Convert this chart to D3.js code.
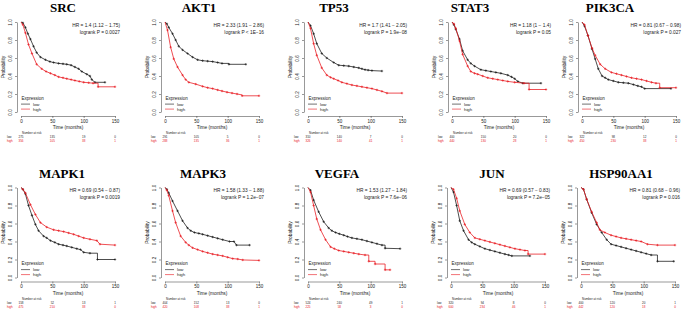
<!DOCTYPE html>
<html>
<head>
<meta charset="utf-8">
<script src="https://cdn.jsdelivr.net/npm/d3@7"></script>
<style>
  body { margin: 0; background: #fff; }
  svg { display: block; }
</style>
</head>
<body>
<div id="chart"></div>
<script>
// Gene panels, left to right, top to bottom
const genes = ['SRC', 'AKT1', 'TP53', 'STAT3', 'PIK3CA', 'MAPK1', 'MAPK3', 'VEGFA', 'JUN', 'HSP90AA1']

const hrLabels = [
  'HR = 1.4 (1.12 − 1.75)', 'HR = 2.33 (1.91 − 2.86)', 'HR = 1.7 (1.41 − 2.05)', 'HR = 1.18 (1 − 1.4)',
  'HR = 0.81 (0.67 − 0.98)', 'HR = 0.69 (0.54 − 0.87)', 'HR = 1.58 (1.33 − 1.88)', 'HR = 1.53 (1.27 − 1.84)',
  'HR = 0.69 (0.57 − 0.83)', 'HR = 0.81 (0.68 − 0.96)'
]
const pLabels = [
  'logrank P = 0.0027', 'logrank P < 1E−16', 'logrank P = 1.9e−08', 'logrank P = 0.05',
  'logrank P = 0.027', 'logrank P = 0.0019', 'logrank P = 1.2e−07', 'logrank P = 7.6e−06',
  'logrank P = 7.2e−05', 'logrank P = 0.016'
]

const riskTimes = [0, 50, 100, 150]
const riskLow = [
  [275, 135, 19, 0], [291, 105, 5, 0], [310, 140, 7, 0], [400, 150, 20, 0], [322, 98, 12, 0],
  [158, 52, 13, 1], [404, 152, 13, 0], [524, 240, 49, 1], [320, 94, 8, 0], [400, 120, 20, 1]
]
const riskHigh = [
  [356, 105, 38, 1], [288, 135, 36, 1], [326, 140, 41, 1], [440, 130, 28, 1], [450, 230, 38, 1],
  [475, 210, 38, 0], [420, 108, 38, 1], [225, 58, 3, 0], [600, 234, 46, 1], [442, 120, 18, 0]
]

// Survival curves [months, probability], "low" expression group
const lowCurves = [
  [[0,1],[3,0.99],[7,0.94],[11,0.87],[15,0.81],[20,0.73],[25,0.66],[31,0.61],[39,0.58],[46,0.56],[52,0.55],[60,0.54],[67,0.535],[73,0.53],[80,0.52],[86,0.5],[92,0.48],[97,0.45],[105,0.42],[110,0.4],[113,0.36],[118,0.33],[134,0.33]],
  [[0,1],[3,0.98],[6,0.94],[12,0.87],[17,0.8],[22,0.73],[28,0.69],[36,0.65],[44,0.61],[52,0.58],[60,0.57],[68,0.565],[76,0.56],[84,0.55],[91,0.54],[102,0.54],[102,0.53],[129,0.53]],
  [[0,1],[4,0.96],[9,0.87],[14,0.76],[22,0.65],[30,0.6],[41,0.55],[49,0.52],[57,0.515],[65,0.51],[73,0.5],[81,0.49],[86,0.48],[91,0.47],[96,0.465],[102,0.46],[118,0.455]],
  [[0,1],[3,0.97],[6,0.92],[12,0.81],[17,0.68],[25,0.58],[30,0.54],[36,0.51],[46,0.47],[54,0.46],[62,0.45],[70,0.44],[78,0.43],[89,0.41],[95,0.39],[100,0.37],[105,0.34],[113,0.32],[142,0.32]],
  [[0,1],[4,0.955],[9.5,0.85],[16,0.7],[21,0.59],[26,0.48],[32,0.4],[37,0.38],[42,0.36],[50,0.345],[58,0.33],[66,0.325],[74,0.32],[82,0.305],[89,0.29],[95,0.28],[100,0.26],[142,0.26]],
  [[0,1],[3,0.98],[7,0.93],[12,0.8],[17.5,0.69],[23,0.59],[28,0.52],[36,0.46],[41,0.44],[47,0.41],[54,0.39],[60,0.37],[67,0.36],[73,0.35],[81,0.335],[89,0.32],[95,0.31],[100,0.28],[110,0.27],[122,0.27],[122,0.2],[150,0.2]],
  [[0,1],[3,0.98],[6,0.94],[12,0.85],[20,0.74],[28,0.63],[36,0.55],[41,0.52],[47,0.5],[54,0.49],[60,0.48],[68,0.465],[76,0.45],[84,0.435],[92,0.42],[103,0.4],[110,0.4],[114,0.36],[135,0.36]],
  [[0,1],[4,0.97],[9,0.86],[17,0.73],[25,0.62],[33,0.55],[38,0.52],[44,0.5],[50,0.485],[57,0.47],[63,0.455],[70,0.44],[78,0.43],[86,0.42],[94,0.405],[102,0.39],[110,0.375],[118,0.36],[123,0.36],[123,0.325],[147,0.32]],
  [[0,1],[4,0.95],[9,0.8],[14,0.63],[20,0.52],[28,0.42],[33,0.39],[38,0.37],[46,0.345],[54,0.32],[62,0.305],[70,0.29],[78,0.275],[86,0.26],[92,0.25],[97,0.24],[126,0.24]],
  [[0,1],[4,0.98],[9,0.87],[17,0.72],[25,0.59],[33,0.5],[41,0.42],[48,0.37],[56,0.355],[64,0.34],[72,0.325],[80,0.31],[88,0.295],[96,0.28],[104,0.265],[112,0.25],[122,0.25],[122,0.18],[148,0.18]]
]

// Survival curves [months, probability], "high" expression group
const highCurves = [
  [[0,1],[3,0.97],[7,0.88],[12,0.75],[17.5,0.65],[25,0.53],[33,0.48],[40,0.45],[47,0.43],[54,0.41],[60,0.39],[67,0.38],[73,0.37],[80,0.36],[86,0.35],[93,0.34],[100,0.33],[108,0.325],[115,0.32],[123,0.32],[123,0.28],[150,0.28]],
  [[0,1],[4,0.91],[9,0.72],[14,0.59],[20,0.5],[28,0.41],[33,0.36],[38,0.33],[49,0.31],[60,0.285],[68,0.27],[76,0.26],[84,0.245],[91,0.233],[99,0.22],[107,0.21],[115,0.2],[123,0.19],[123,0.18],[150,0.18]],
  [[0,1],[4,0.93],[9,0.76],[14,0.63],[22,0.49],[30,0.41],[36,0.385],[41,0.37],[48,0.35],[54,0.33],[62,0.315],[70,0.3],[78,0.29],[86,0.28],[94,0.27],[102,0.26],[110,0.245],[118,0.23],[126,0.21],[150,0.21]],
  [[0,1],[3,0.98],[6,0.93],[12,0.79],[17,0.64],[25,0.51],[30,0.45],[36,0.43],[41,0.42],[49,0.4],[57,0.38],[65,0.37],[73,0.36],[81,0.35],[89,0.34],[100,0.33],[115,0.32],[123,0.32],[123,0.25],[150,0.25]],
  [[0,1],[4,0.97],[9.5,0.85],[16,0.71],[21,0.63],[29,0.53],[37,0.48],[47,0.44],[55,0.425],[63,0.41],[71,0.395],[79,0.38],[87,0.37],[95,0.36],[103,0.345],[111,0.33],[118,0.32],[124,0.32],[124,0.27],[150,0.27]],
  [[0,1],[3,0.98],[7,0.94],[15,0.81],[23,0.7],[31,0.61],[41,0.56],[52,0.53],[60,0.52],[68,0.51],[76,0.495],[84,0.48],[92,0.46],[100,0.44],[110,0.425],[121,0.41],[126,0.37],[150,0.36]],
  [[0,1],[3,0.97],[6,0.91],[12,0.74],[17,0.61],[25,0.46],[33,0.39],[38,0.36],[44,0.33],[52,0.31],[60,0.29],[68,0.275],[76,0.26],[84,0.25],[92,0.24],[100,0.225],[108,0.21],[116,0.205],[124,0.195],[150,0.19]],
  [[0,1],[4,0.95],[9,0.8],[14,0.65],[20,0.53],[28,0.42],[36,0.34],[42,0.32],[49,0.3],[57,0.29],[65,0.28],[73,0.27],[81,0.26],[91,0.25],[97,0.25],[97,0.18],[107,0.18],[107,0.15],[123,0.15],[123,0.085],[131,0.085]],
  [[0,1],[4,0.98],[9,0.88],[14,0.74],[22,0.59],[30,0.5],[38,0.44],[46,0.425],[54,0.41],[62,0.395],[70,0.38],[78,0.365],[86,0.35],[94,0.335],[102,0.32],[110,0.31],[118,0.3],[123,0.3],[123,0.26],[150,0.26]],
  [[0,1],[4,0.98],[9,0.87],[17,0.73],[25,0.61],[30,0.53],[38,0.5],[48,0.47],[56,0.455],[64,0.44],[72,0.43],[80,0.42],[88,0.41],[96,0.4],[106,0.37],[122,0.36],[150,0.36]]
]

// Layout: plot origin (t=0, p=1) of each panel, and title centre
const panelOrigin = [[21, 22], [165, 22], [308, 22], [452, 22], [582, 22], [21, 187.5], [165, 187.5], [308, 187.5], [451, 187.5], [581, 187.5]]
const titlePos = [[63, 12], [199, 12], [334, 12], [470, 12], [610, 12], [62, 177.5], [203, 177.5], [337, 177.5], [492, 177.5], [621, 177.5]]
const PW = 94, PH = 90
const RED = '#e8141b', BLACK = '#111'
const SANS = '"Liberation Sans", Arial, sans-serif'

const svg = d3.select('#chart').append('svg').attr('width', 685).attr('height', 312)

genes.forEach((gene, i) => {
  const [ox, oy] = panelOrigin[i]
  const x = d3.scaleLinear().domain([0, 150]).range([ox, ox + PW])
  const y = d3.scaleLinear().domain([0, 1]).range([oy + PH, oy])
  const g = svg.append('g')

  g.append('text').attr('x', titlePos[i][0]).attr('y', titlePos[i][1])
    .attr('text-anchor', 'middle').style('font-family', '"Liberation Serif", "Times New Roman", serif')
    .style('font-weight', 'bold').style('font-size', '13px').text(gene)

  // Axes
  const xa = g.append('g').attr('transform', `translate(0,${oy + PH + 4})`)
    .call(d3.axisBottom(x).tickValues([0, 50, 100, 150]).tickSize(2).tickSizeOuter(0).tickPadding(1.5))
  const ya = g.append('g').attr('transform', `translate(${ox - 4},0)`)
    .call(d3.axisLeft(y).tickValues([0, 0.2, 0.4, 0.6, 0.8, 1]).tickFormat(d3.format('.1f')).tickSize(2).tickSizeOuter(0))
  ;[xa, ya].forEach(a => {
    a.select('.domain').attr('stroke', '#333').attr('stroke-width', 0.5)
    a.selectAll('.tick line').attr('stroke', '#333').attr('stroke-width', 0.5)
    a.selectAll('text').style('font-family', SANS).style('font-size', '4.5px').attr('fill', '#222')
  })
  ya.selectAll('.tick text').attr('x', null).attr('dy', null).attr('text-anchor', 'middle')
    .attr('transform', 'translate(-5.3,0) rotate(-90)')

  g.append('text').attr('transform', `translate(${ox - 16},${oy + PH / 2}) rotate(-90)`)
    .attr('text-anchor', 'middle').style('font-family', SANS).style('font-size', '4.8px').attr('fill', '#222').text('Probability')
  g.append('text').attr('x', x(75)).attr('y', oy + 107)
    .attr('text-anchor', 'middle').style('font-family', SANS).style('font-size', '4.8px').attr('fill', '#222').text('Time (months)')

  // HR and logrank
  g.append('text').attr('x', ox + PW + 5).attr('y', oy + 4.5).attr('text-anchor', 'end')
    .style('font-family', SANS).style('font-size', '4.8px').attr('fill', '#222').text(hrLabels[i])
  g.append('text').attr('x', ox + PW + 5).attr('y', oy + 11.5).attr('text-anchor', 'end')
    .style('font-family', SANS).style('font-size', '4.8px').attr('fill', '#222').text(pLabels[i])

  // Curves and censor marks
  const line = d3.line().x(d => x(d[0])).y(d => y(d[1]))
  ;[[lowCurves[i], BLACK], [highCurves[i], RED]].forEach(([pts, col]) => {
    g.append('path').attr('d', line(pts)).attr('fill', 'none').attr('stroke', col).attr('stroke-width', 0.75)
    const marks = pts.filter((d, k) => d[0] > 0 && !(pts[k + 1] && pts[k + 1][0] === d[0]))
    g.selectAll(null).data(marks).join('path')
      .attr('d', d => `M${x(d[0]) - 1.2},${y(d[1])}h2.4M${x(d[0])},${y(d[1]) - 1.2}v2.4`)
      .attr('stroke', col).attr('stroke-width', 0.6)
  })

  // Legend
  g.append('text').attr('x', ox + 0.5).attr('y', oy + 77.5)
    .style('font-family', SANS).style('font-size', '4.5px').attr('fill', '#222').text('Expression')
  ;[['low', BLACK, 83.5], ['high', RED, 88.5]].forEach(([lab, col, dy]) => {
    g.append('line').attr('x1', ox).attr('x2', ox + 9).attr('y1', oy + dy - 1.4).attr('y2', oy + dy - 1.4)
      .attr('stroke', col).attr('stroke-width', 0.6)
    g.append('text').attr('x', ox + 12).attr('y', oy + dy)
      .style('font-family', SANS).style('font-size', '4.3px').attr('fill', '#222').text(lab)
  })

  // Number at risk
  g.append('text').attr('x', ox + 1).attr('y', oy + 112)
    .style('font-family', SANS).style('font-size', '3px').attr('fill', '#222').text('Number at risk')
  ;[['low', riskLow[i], '#222', 116.3], ['high', riskHigh[i], RED, 120.3]].forEach(([lab, vals, col, dy]) => {
    g.append('text').attr('x', ox - 14).attr('y', oy + dy)
      .style('font-family', SANS).style('font-size', '3px').attr('fill', col).text(lab)
    g.selectAll(null).data(vals).join('text')
      .attr('x', (d, k) => x(riskTimes[k])).attr('y', oy + dy).attr('text-anchor', 'middle')
      .style('font-family', SANS).style('font-size', '3px').attr('fill', col).text(d => d)
  })
})
</script>
</body>
</html>
